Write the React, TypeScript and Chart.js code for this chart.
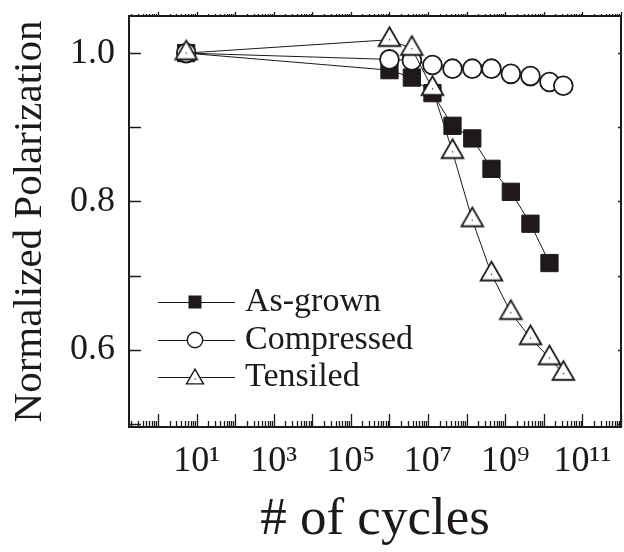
import React, { useEffect, useRef } from "react";
import { Chart, registerables } from "chart.js";

Chart.register(...registerables);

// ---- data ----
const cycles = [5.4, 1e6, 3.8e6, 1.3e7, 4.3e7, 1.4e8, 4.4e8, 1.4e9, 4.5e9, 1.4e10, 3.2e10];
const asGrown = [1.0, 0.977, 0.967, 0.946, 0.902, 0.885, 0.844, 0.813, 0.77, 0.717];
const compressed = [1.0, 0.9915, 0.99, 0.984, 0.979, 0.979, 0.979, 0.972, 0.969, 0.961, 0.956];
const tensiled = [1.0, 1.018, 1.006, 0.952, 0.867, 0.775, 0.702, 0.65, 0.616, 0.589, 0.568];
const seriesNames = ["As-grown", "Compressed", "Tensiled"];
const xTickExponents = [1, 3, 5, 7, 9, 11];
const yTickValues = [0.6, 0.8, 1.0];
const xTitle = "# of cycles";
const yTitle = "Normalized Polarization";

const FONT = "'Liberation Serif', 'Times New Roman', serif";
const INK = "#1e1a1b";

const SUP: Record<string, string> = {
  "0": "\u2070", "1": "\u00b9", "2": "\u00b2", "3": "\u00b3", "4": "\u2074",
  "5": "\u2075", "6": "\u2076", "7": "\u2077", "8": "\u2078", "9": "\u2079",
};
const supText = (n: number) => String(n).split("").map((c) => SUP[c]).join("");

function drawTriangle(ctx: CanvasRenderingContext2D, cx: number, cy: number, r: number, lw: number) {
  const h = (Math.sqrt(3) / 2) * r;
  ctx.beginPath();
  ctx.moveTo(cx, cy - r);
  ctx.lineTo(cx + h, cy + r / 2);
  ctx.lineTo(cx - h, cy + r / 2);
  ctx.closePath();
  ctx.fillStyle = "#fff";
  ctx.fill();
  ctx.lineWidth = lw;
  ctx.strokeStyle = INK;
  ctx.lineJoin = "miter";
  ctx.stroke();
  ctx.fillStyle = INK;
  ctx.fillRect(cx - 0.6, cy - 0.6, 1.2, 1.2);
}

function makeTriangleImage(r: number, lw: number) {
  const size = Math.ceil(r * 2 + 6);
  const c = document.createElement("canvas");
  c.width = size;
  c.height = size;
  const ctx = c.getContext("2d")!;
  drawTriangle(ctx, size / 2, size / 2, r, lw);
  return c;
}

const frameTicksLegend = {
  id: "frameTicksLegend",
  afterDraw(chart: any) {
    const { ctx, chartArea } = chart;
    const { left, right, top, bottom } = chartArea;
    const xs = chart.scales.x;
    const ys = chart.scales.y;
    ctx.save();
    ctx.strokeStyle = INK;
    ctx.lineCap = "butt";

    // x ticks (bottom inward, top outward short)
    ctx.lineWidth = 1.3;
    const lo = Math.floor(Math.log10(xs.min));
    const hi = Math.ceil(Math.log10(xs.max));
    for (let k = lo; k <= hi; k++) {
      for (let m = 1; m <= 9; m++) {
        const v = m * Math.pow(10, k);
        if (v < xs.min || v > xs.max) continue;
        const px = Math.round(xs.getPixelForValue(v)) + 0.5;
        const len = m === 1 ? 13 : 6;
        ctx.beginPath();
        ctx.moveTo(px, bottom);
        ctx.lineTo(px, bottom - len);
        ctx.stroke();
        ctx.beginPath();
        ctx.moveTo(px, top);
        ctx.lineTo(px, top - (m === 1 ? 4 : 2));
        ctx.stroke();
      }
    }
    // y ticks (left inward, right inward short)
    ctx.lineWidth = 1.5;
    for (let t = 5; t <= 10; t++) {
      const v = t / 10;
      if (v < ys.min || v > ys.max) continue;
      const py = Math.round(ys.getPixelForValue(v)) + 0.5;
      ctx.beginPath();
      ctx.moveTo(left, py);
      ctx.lineTo(left + 12, py);
      ctx.stroke();
      ctx.beginPath();
      ctx.moveTo(right, py);
      ctx.lineTo(right - 3, py);
      ctx.stroke();
    }

    // frame
    ctx.lineWidth = 2;
    ctx.strokeRect(left, top, right - left, bottom - top);

    // legend
    const rows = [302, 340, 377];
    ctx.font = `34px ${FONT}`;
    ctx.textBaseline = "middle";
    ctx.textAlign = "left";
    rows.forEach((ry, i) => {
      ctx.strokeStyle = INK;
      ctx.lineWidth = 1;
      ctx.beginPath();
      ctx.moveTo(158, ry + 0.5);
      ctx.lineTo(235, ry + 0.5);
      ctx.stroke();
      const cx = 195;
      if (i === 0) {
        ctx.fillStyle = INK;
        ctx.fillRect(cx - 6.5, ry - 6.5, 13, 13);
      } else if (i === 1) {
        ctx.beginPath();
        ctx.arc(cx, ry, 7.7, 0, Math.PI * 2);
        ctx.fillStyle = "#fff";
        ctx.fill();
        ctx.lineWidth = 1.4;
        ctx.stroke();
      } else {
        drawTriangle(ctx, cx, ry + 2, 9.8, 1.4);
      }
      ctx.fillStyle = INK;
      ctx.fillText(seriesNames[i], 245, ry);
    });
    ctx.restore();
  },
};

const zeroPadding = (scale: any) => {
  scale.paddingTop = 0;
  scale.paddingBottom = 0;
  scale.paddingLeft = 0;
  scale.paddingRight = 0;
};

export default function App() {
  const ref = useRef<HTMLCanvasElement>(null);

  useEffect(() => {
    const canvas = ref.current!;
    const tri = makeTriangleImage(12.5, 1.8);
    const toPts = (ys: number[]) => ys.map((y, i) => ({ x: cycles[i], y }));

    const chart = new Chart(canvas, {
      type: "scatter",
      data: {
        datasets: [
          {
            label: seriesNames[0],
            data: toPts(asGrown),
            showLine: true,
            borderColor: INK,
            borderWidth: 1,
            pointStyle: "rect",
            pointRadius: 12.2,
            pointBackgroundColor: INK,
            pointBorderColor: INK,
            pointBorderWidth: 1,
            order: 3,
          },
          {
            label: seriesNames[1],
            data: toPts(compressed),
            showLine: true,
            borderColor: INK,
            borderWidth: 1,
            pointStyle: "circle",
            pointRadius: 9.4,
            pointBackgroundColor: "#ffffff",
            pointBorderColor: INK,
            pointBorderWidth: 1.8,
            order: 2,
          },
          {
            label: seriesNames[2],
            data: toPts(tensiled),
            showLine: true,
            borderColor: INK,
            borderWidth: 1,
            pointStyle: tri as any,
            pointRadius: 12.5,
            order: 1,
          },
        ],
      },
      options: {
        animation: false,
        responsive: false,
        maintainAspectRatio: false,
        layout: { autoPadding: false, padding: { top: 16, right: 3, left: 0, bottom: 0 } },
        plugins: {
          legend: { display: false },
          tooltip: { enabled: false },
        },
        scales: {
          x: {
            type: "logarithmic",
            min: Math.pow(10, -0.75),
            max: 1e12,
            grid: { display: false, drawTicks: false },
            border: { display: false },
            afterBuildTicks: (scale: any) => {
              scale.ticks = xTickExponents.map((e) => ({ value: Math.pow(10, e) }));
            },
            afterFit: (scale: any) => {
              scale.height = 125;
              zeroPadding(scale);
            },
            ticks: {
              autoSkip: false,
              maxRotation: 0,
              minRotation: 0,
              padding: 13,
              color: INK,
              font: { family: FONT, size: 36 },
              callback: (value: any) => "10" + supText(Math.round(Math.log10(Number(value)))),
            },
            title: {
              display: true,
              text: xTitle,
              color: INK,
              font: { family: FONT, size: 53 },
              padding: { top: 0, bottom: 0 },
            },
          },
          y: {
            type: "linear",
            min: 0.496,
            max: 1.05,
            grid: { display: false, drawTicks: false },
            border: { display: false },
            afterBuildTicks: (scale: any) => {
              scale.ticks = yTickValues.map((v) => ({ value: v }));
            },
            afterFit: (scale: any) => {
              scale.width = 129;
              zeroPadding(scale);
            },
            ticks: {
              padding: 14,
              color: INK,
              font: { family: FONT, size: 36 },
              callback: (value: any) => Number(value).toFixed(1),
            },
            title: {
              display: true,
              text: yTitle,
              color: INK,
              font: { family: FONT, size: 41 },
              padding: { top: 6, bottom: 0 },
            },
          },
        },
      },
      plugins: [frameTicksLegend],
    });
    return () => chart.destroy();
  }, []);

  return (
    <div style={{ position: "absolute", left: 0, top: 0, width: 624, height: 552, background: "#fff" }}>
      <canvas ref={ref} width={624} height={552} style={{ display: "block" }} />
    </div>
  );
}
